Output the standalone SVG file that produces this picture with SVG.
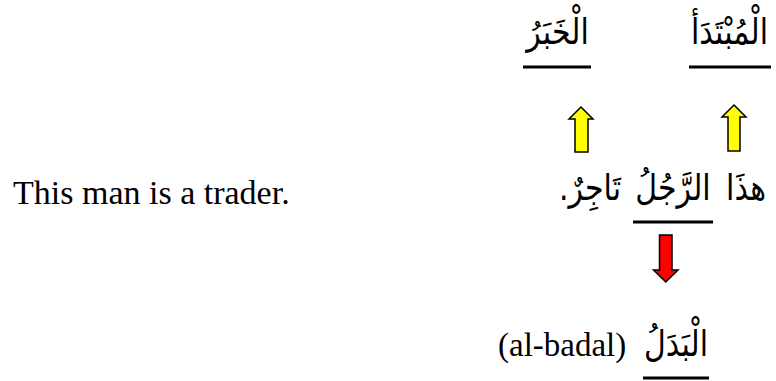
<svg xmlns="http://www.w3.org/2000/svg" width="776" height="381" viewBox="0 0 776 381">
<style>
.en{font-family:"Liberation Serif","Times New Roman",serif;font-size:34px;fill:#000}
.ar{font-family:"DejaVu Sans",sans-serif;font-size:30px;fill:#000;text-anchor:middle}
.ul{stroke:#000;stroke-width:3;fill:none}
.ya{fill:#ffff00;stroke:#000;stroke-width:1.5;stroke-linejoin:miter}
.ra{fill:#ff0000;stroke:#000;stroke-width:1.5;stroke-linejoin:miter}
</style>
<rect width="776" height="381" fill="#fff"/>
<g id="mubtada">
<text class="ar" transform="translate(729.5,44) scale(1,1.2)" x="0" y="0" direction="rtl">الْمُبْتَدَأ</text>
<line class="ul" x1="689" y1="67" x2="771" y2="67"/>
</g>
<g id="khabar">
<text class="ar" transform="translate(557.5,44) scale(1,1.2)" x="0" y="0" direction="rtl">الْخَبَرُ</text>
<line class="ul" x1="523" y1="67" x2="591" y2="67"/>
</g>
<g id="sentence">
<text class="ar" transform="translate(746,200) scale(1,1.2)" x="0" y="0" direction="rtl">هذَا</text>
<text class="ar" transform="translate(673,200) scale(1,1.2)" x="0" y="0" direction="rtl">الرَّجُلُ</text>
<text class="ar" transform="translate(590,200) scale(1,1.2)" x="0" y="0" direction="rtl">تَاجِرٌ.</text>
<line class="ul" x1="633" y1="222" x2="713" y2="222"/>
</g>
<g id="translation">
<text class="en" x="13" y="204">This man is a trader.</text>
</g>
<g id="badal">
<text class="en" x="498" y="356" style="font-size:33px">(al-badal)</text>
<text class="ar" transform="translate(676,356) scale(1,1.2)" x="0" y="0" direction="rtl">الْبَدَلُ</text>
<line class="ul" x1="643" y1="378" x2="709" y2="378"/>
</g>
<g id="connectors">
<path class="ya" d="M575,152 L575,119 L569,119 L581,107 L593,119 L588,119 L588,152 Z"/>
<path class="ya" d="M728,151 L728,117 L722,117 L734,105 L746,117 L740,117 L740,151 Z"/>
<path class="ra" d="M659.5,235 L672,235 L672,270 L678,270 L665.8,282 L653.5,270 L659.5,270 Z"/>
</g>
</svg>
